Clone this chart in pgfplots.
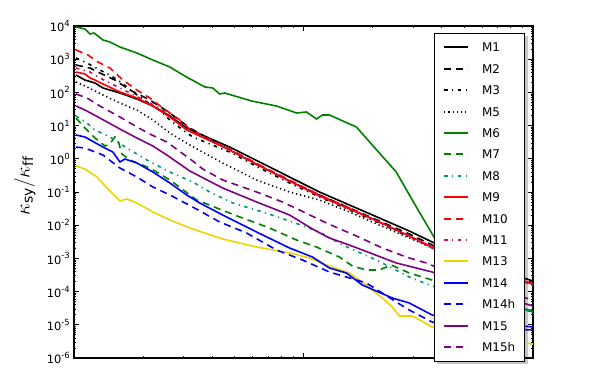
\documentclass[border=0pt]{standalone}
\usepackage{fontspec}
\setmainfont{DejaVu Sans}
\usepackage{pgfplots}
\pgfplotsset{compat=1.18}
\usetikzlibrary{backgrounds}

\definecolor{mgreen}{RGB}{0,128,0}
\definecolor{mteal}{RGB}{0,150,110}
\definecolor{mred}{RGB}{255,0,0}
\definecolor{mcrimson}{RGB}{200,20,90}
\definecolor{mgold}{RGB}{240,210,0}
\definecolor{mblue}{RGB}{0,0,255}
\definecolor{mpurple}{RGB}{128,0,128}

\newcommand\tl[1]{10\raisebox{0.45em}{\fontsize{8.5}{9}\selectfont #1}}

\pgfplotsset{
  ln/.style={line width=1.6bp, no markers},
  dsh/.style={dash pattern=on 7bp off 5bp},
  dshdot/.style={dash pattern=on 3.5bp off 4.5bp on 1.2bp off 4.5bp},
  dtt/.style={dash pattern=on 1.2bp off 3bp},
}

\begin{document}
\begin{tikzpicture}
\path[use as bounding box] (-74bp,-26bp) rectangle (518bp,358bp);
\begin{axis}[
  at={(0,0)}, anchor=south west,
  scale only axis, width=459bp, height=332bp,
  xmode=log, ymode=log,
  xmin=1, xmax=100, ymin=1e-6, ymax=1e4,
  xtick={1,10,100},
  xticklabels={,,},
  minor xtick={2,3,4,5,6,7,8,9,20,30,40,50,60,70,80,90},
  ytick={1e-6,1e-5,1e-4,1e-3,1e-2,1e-1,1,1e1,1e2,1e3,1e4},
  yticklabels={\tl{-6},\tl{-5},\tl{-4},\tl{-3},\tl{-2},\tl{-1},\tl{0},\tl{1},\tl{2},\tl{3},\tl{4}},
  minor ytick={2e-6,3e-6,4e-6,5e-6,6e-6,7e-6,8e-6,9e-6,
    2e-5,3e-5,4e-5,5e-5,6e-5,7e-5,8e-5,9e-5,
    2e-4,3e-4,4e-4,5e-4,6e-4,7e-4,8e-4,9e-4,
    2e-3,3e-3,4e-3,5e-3,6e-3,7e-3,8e-3,9e-3,
    2e-2,3e-2,4e-2,5e-2,6e-2,7e-2,8e-2,9e-2,
    0.2,0.3,0.4,0.5,0.6,0.7,0.8,0.9,
    2,3,4,5,6,7,8,9,
    20,30,40,50,60,70,80,90,
    200,300,400,500,600,700,800,900,
    2000,3000,4000,5000,6000,7000,8000,9000},
  yticklabel style={font=\fontsize{11.5}{13}\selectfont, inner sep=0pt, xshift=-4bp},
  tick align=inside,
  major tick length=5bp, minor tick length=2.5bp,
  every tick/.style={black, line width=0.8bp},
  axis line style={line width=1.5bp},
  ylabel={$\kappa_{\mathrm{sy}}/\kappa_{\mathrm{ff}}$},
  every axis y label/.style={at={(axis description cs:-0.107,0.518)}, anchor=center, rotate=90, font=\fontsize{20}{24}\selectfont},
  legend style={
    name=lgd,
    at={(axis description cs:0.784,0.979)}, anchor=north west,
    draw=black, line width=0.8bp, fill=white,
    font=\fontsize{12}{14}\selectfont,
    inner xsep=9bp, inner ysep=9.5bp,
    row sep=12.4bp, column sep=13bp,
    nodes={inner sep=0pt, text height=9bp, text depth=0pt},
    cells={anchor=west},
  },
  legend image code/.code={\draw[#1, line width=1.9bp] (0bp,0bp) -- (24bp,0bp);},
]
\addplot[ln, black] coordinates {
(1.02,334) (1.116,236) (1.234,192) (1.337,136) (1.585,95.9) (1.879,63.2)
(2.205,38.9) (2.615,19.5) (3.099,8.47) (3.530,5.58) (4.768,2.26) (6.437,0.801)
(8.692,0.283) (11.74,0.100) (15.85,0.0406) (21.40,0.0165) (28.90,0.00668)
(36.38,0.00312) (52.71,0.00103) (71.15,4.48e-4) (100,2.08e-4)};
\addlegendentry{M1}
\addplot[ln, black, dsh] coordinates {
(1.02,668) (1.174,543) (1.297,384) (1.507,236) (1.752,118) (2.140,59.0)
(2.615,24.0) (3.194,8.47) (4.768,1.84) (6.437,0.607) (8.692,0.214) (11.74,0.0813)
(15.85,0.0330) (21.40,0.0134) (28.90,0.00543) (36.38,0.00254) (52.71,8.95e-4)
(71.15,4.17e-4) (100,1.95e-4)};
\addlegendentry{M2}
\addplot[ln, black, dshdot] coordinates {
(1.02,1090) (1.139,769) (1.297,473) (1.434,334) (1.617,192) (1.805,103)
(2.077,51.4) (2.365,29.5) (2.615,14.8) (2.978,7.36) (3.291,4.54) (4.768,1.60)
(6.437,0.528) (8.692,0.187) (11.74,0.0707) (15.85,0.0287) (21.40,0.0116)
(28.90,0.00441) (36.38,0.00220) (52.71,7.8e-4) (71.15,3.63e-4) (100,1.69e-4)};
\addlegendentry{M3}
\addplot[ln, black, dtt] coordinates {
(1.02,206) (1.139,146) (1.337,83.5) (1.585,48.0) (1.879,29.5) (2.205,14.8)
(2.615,5.98) (3.194,2.60) (4.444,0.747) (6.247,0.230) (8.692,0.100) (11.74,0.0574)
(15.85,0.0250) (21.40,0.0101) (28.90,0.00411) (36.38,0.00206) (52.71,7.28e-4)
(71.15,3.39e-4) (100,1.58e-4)};
\addlegendentry{M5}
\addplot[ln, mgreen] coordinates {
(1.02,9330) (1.116,8120) (1.174,5740) (1.222,6150) (1.271,5000) (1.337,3790)
(1.434,3300) (1.585,2330) (1.879,1540) (2.205,946) (2.615,582) (3.038,312)
(3.712,146) (4.021,136) (4.314,89.5) (4.535,95.9) (5.941,55.1) (7.630,38.9)
(9.324,24.0) (10.30,25.7) (11.39,15.8) (12.09,20.8) (12.97,20.8) (17.00,9.08)
(21.40,1.50) (25.37,0.400) (29.78,0.0574) (36.38,0.00543) (47.68,2.23e-4)
(64.37,5.58e-5) (100,2.61e-5)};
\addlegendentry{M6}
\addplot[ln, mgreen, dsh] coordinates {
(1.02,16.9) (1.116,8.47) (1.234,4.24) (1.364,2.43) (1.434,2.79) (1.507,4.54)
(1.554,3.68) (1.617,1.40) (1.752,0.920) (2.140,0.528) (2.615,0.230) (3.426,0.0574)
(4.186,0.0330) (5.271,0.0177) (7.115,0.00824) (9.324,0.00358) (11.39,0.00220)
(14.34,0.00110) (16.33,5.90e-4) (18.79,4.48e-4) (21.40,4.48e-4) (24.13,6.32e-4)
(28.90,3.63e-4) (36.38,2.23e-4) (58.25,6.41e-5) (100,2.43e-5)};
\addlegendentry{M7}
\addplot[ln, mteal, dshdot] coordinates {
(1.02,19.5) (1.139,12.0) (1.234,7.36) (1.434,4.54) (1.700,2.11) (2.077,0.920)
(2.615,0.400) (3.291,0.200) (3.902,0.100) (4.913,0.0467) (6.633,0.0250)
(8.960,0.0125) (11.74,0.00624) (14.78,0.00254) (20.77,8.95e-4) (28.90,2.75e-4)
(36.38,1.47e-4) (58.25,5.58e-5) (100,2.43e-5)};
\addlegendentry{M8}
\addplot[ln, mred] coordinates {
(1.02,411) (1.116,358) (1.174,272) (1.234,236) (1.337,179) (1.585,103)
(1.879,67.8) (2.205,38.9) (2.615,18.2) (3.099,7.36) (3.530,4.86) (4.768,1.84)
(6.437,0.607) (8.692,0.214) (11.74,0.0758) (15.85,0.0308) (21.40,0.0125)
(28.90,0.00473) (36.38,0.00220) (52.71,7.80e-4) (71.15,3.89e-4) (100,1.69e-4)};
\addlegendentry{M9}
\addplot[ln, mred, dsh] coordinates {
(1.02,1890) (1.150,1340) (1.271,824) (1.434,543) (1.633,236) (1.879,118)
(2.140,67.8) (2.438,33.9) (2.890,14.8) (3.291,6.41) (4.768,1.97) (6.437,0.650)
(8.692,0.230) (11.74,0.0813) (15.85,0.0330) (21.40,0.0123) (28.90,0.0047)
(36.38,0.00206) (52.71,7.80e-4) (71.15,3.63e-4) (100,1.58e-4)};
\addlegendentry{M10}
\addplot[ln, mcrimson, dshdot] coordinates {
(1.02,543) (1.174,411) (1.297,272) (1.585,136) (1.936,67.8) (2.365,33.9)
(2.890,12.8) (3.530,5.58) (4.768,1.84) (6.437,0.650) (8.692,0.214) (11.74,0.0758)
(15.85,0.0308) (21.40,0.0125) (28.90,0.00473) (36.38,0.00206) (52.71,7.28e-4)
(71.15,3.39e-4) (100,1.58e-4)};
\addlegendentry{M11}
\addplot[ln, mgold] coordinates {
(1.02,0.607) (1.116,0.493) (1.259,0.283) (1.392,0.132) (1.585,0.0536) (1.700,0.0615)
(1.879,0.0467) (2.205,0.0250) (2.615,0.0144) (3.194,0.00824) (4.444,0.00384)
(6.247,0.00220) (8.692,0.00146) (10.62,0.00103) (12.59,6.32e-4) (15.85,3.63e-4)
(18.79,1.58e-4) (22.05,6.41e-5) (24.38,3.44e-5) (26.15,1.84e-5) (29.78,1.84e-5)
(36.38,8.59e-6) (58.25,4.29e-6) (100,2.64e-6)};
\addlegendentry{M13}
\addplot[ln, mblue] coordinates {
(1.02,5.21) (1.116,4.54) (1.337,2.26) (1.477,1.60) (1.585,0.801) (1.666,0.986)
(1.879,0.747) (2.205,0.400) (2.615,0.187) (3.099,0.0813) (3.530,0.0467)
(4.444,0.0203) (6.247,0.00624) (8.692,0.00206) (10.94,0.00110) (12.97,5.14e-4)
(15.38,3.63e-4) (18.05,1.58e-4) (24.38,6.41e-5) (28.90,4.54e-5) (36.38,1.97e-5)
(58.25,1.21e-5) (100,8.59e-6)};
\addlegendentry{M14}
\addplot[ln, mblue, dsh] coordinates {
(1.02,2.26) (1.116,2.11) (1.337,1.30) (1.585,0.528) (1.879,0.283) (2.205,0.142)
(2.615,0.0813) (3.291,0.0353) (4.314,0.0125) (5.651,0.00582) (7.630,0.00179)
(9.901,8.95e-4) (12.97,3.89e-4) (18.79,1.82e-4) (25.37,4.86e-5) (28.90,2.79e-5)
(36.38,1.21e-5) (58.25,8.01e-6) (100,6.97e-6)};
\addlegendentry{M14h}
\addplot[ln, mpurple] coordinates {
(1.02,38.9) (1.116,29.5) (1.297,16.9) (1.585,7.90) (1.842,4.54) (2.205,2.43)
(2.537,1.30) (3.194,0.430) (4.444,0.132) (6.247,0.0500) (8.692,0.0203)
(10.94,0.00769) (12.97,0.00411) (15.38,0.00272) (18.05,0.00179) (25.37,7.28e-4)
(36.38,3.89e-4) (58.25,1.12e-4) (100,3.68e-5)};
\addlegendentry{M15}
\addplot[ln, mpurple, dsh] coordinates {
(1.02,89.5) (1.139,67.8) (1.297,38.9) (1.585,18.2) (1.879,9.08) (2.140,5.58)
(2.537,3.21) (3.291,0.859) (3.638,0.493) (4.444,0.230) (6.247,0.100) (8.102,0.0500)
(9.607,0.0287) (12.59,0.0116) (17.00,0.00473) (22.05,0.00206) (28.05,0.00110)
(34.26,7.28e-4) (58.25,1.58e-4) (100,5.58e-5)};
\addlegendentry{M15h}
\end{axis}
\begin{pgfonlayer}{background}
\fill[gray!45] ([shift={(3bp,-3bp)}]lgd.south west) rectangle ([shift={(3bp,-3bp)}]lgd.north east);
\end{pgfonlayer}
\end{tikzpicture}
\end{document}
